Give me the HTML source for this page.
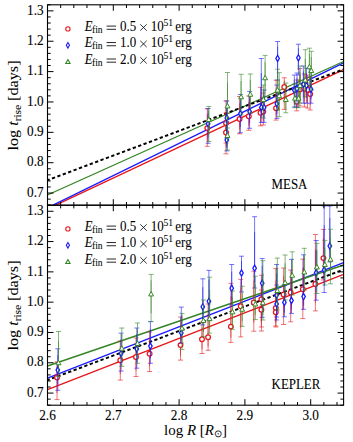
<!DOCTYPE html><html><head><meta charset="utf-8"><style>html,body{margin:0;padding:0;background:#fff;}svg{display:block;}text{font-family:"Liberation Serif",serif;}</style></head><body>
<svg width="353" height="442" viewBox="0 0 353 442">
<rect width="353" height="442" fill="#fff"/>
<clipPath id="c0"><rect x="47.5" y="4.8" width="296.1" height="200.39999999999998"/></clipPath>
<g clip-path="url(#c0)">
<line x1="47.5" y1="209.0" x2="343.6" y2="69.6" stroke="#e8161b" stroke-width="1.35"/>
<line x1="47.5" y1="207.8" x2="343.6" y2="62.8" stroke="#1a1aff" stroke-width="1.35"/>
<line x1="47.5" y1="195.0" x2="343.6" y2="61.5" stroke="#338525" stroke-width="1.35"/>
<line x1="47.5" y1="180.2" x2="343.6" y2="69.3" stroke="#000" stroke-width="1.95" stroke-dasharray="3.3,2.45" stroke-dashoffset="0.95"/>
</g>
<path d="M207.30 108.80V146.30M204.80 108.80h5M204.80 146.30h5" stroke="#e8161b" stroke-opacity="0.6" stroke-width="1" fill="none"/><path d="M207.30 114.59V140.84" stroke="#e8161b" stroke-opacity="0.6" stroke-width="1" fill="none"/>
<path d="M226.00 100.80V143.00M223.50 100.80h5M223.50 143.00h5" stroke="#e8161b" stroke-opacity="0.6" stroke-width="1" fill="none"/><path d="M226.00 107.46V137.00" stroke="#e8161b" stroke-opacity="0.6" stroke-width="1" fill="none"/>
<path d="M226.00 113.00V153.80M223.50 113.00h5M223.50 153.80h5" stroke="#e8161b" stroke-opacity="0.6" stroke-width="1" fill="none"/><path d="M226.00 118.85V147.41" stroke="#e8161b" stroke-opacity="0.6" stroke-width="1" fill="none"/>
<path d="M239.60 96.50V133.80M237.10 96.50h5M237.10 133.80h5" stroke="#e8161b" stroke-opacity="0.6" stroke-width="1" fill="none"/><path d="M239.60 103.25V129.36" stroke="#e8161b" stroke-opacity="0.6" stroke-width="1" fill="none"/>
<path d="M248.80 96.00V130.30M246.30 96.00h5M246.30 130.30h5" stroke="#e8161b" stroke-opacity="0.6" stroke-width="1" fill="none"/><path d="M248.80 102.06V126.07" stroke="#e8161b" stroke-opacity="0.6" stroke-width="1" fill="none"/>
<path d="M260.50 87.30V125.80M258.00 87.30h5M258.00 125.80h5" stroke="#e8161b" stroke-opacity="0.6" stroke-width="1" fill="none"/><path d="M260.50 94.95V121.90" stroke="#e8161b" stroke-opacity="0.6" stroke-width="1" fill="none"/>
<path d="M263.30 93.00V125.00M260.80 93.00h5M260.80 125.00h5" stroke="#e8161b" stroke-opacity="0.6" stroke-width="1" fill="none"/><path d="M263.30 98.58V120.98" stroke="#e8161b" stroke-opacity="0.6" stroke-width="1" fill="none"/>
<path d="M276.10 80.20V120.10M273.60 80.20h5M273.60 120.10h5" stroke="#e8161b" stroke-opacity="0.6" stroke-width="1" fill="none"/><path d="M276.10 88.60V116.53" stroke="#e8161b" stroke-opacity="0.6" stroke-width="1" fill="none"/>
<path d="M284.30 77.80V109.40M281.80 77.80h5M281.80 109.40h5" stroke="#e8161b" stroke-opacity="0.6" stroke-width="1" fill="none"/><path d="M284.30 80.56V102.68" stroke="#e8161b" stroke-opacity="0.6" stroke-width="1" fill="none"/>
<path d="M299.90 68.60V106.00M297.40 68.60h5M297.40 106.00h5" stroke="#e8161b" stroke-opacity="0.6" stroke-width="1" fill="none"/><path d="M299.90 74.90V101.08" stroke="#e8161b" stroke-opacity="0.6" stroke-width="1" fill="none"/>
<path d="M296.70 80.00V110.80M294.20 80.00h5M294.20 110.80h5" stroke="#e8161b" stroke-opacity="0.6" stroke-width="1" fill="none"/><path d="M296.70 86.54V108.10" stroke="#e8161b" stroke-opacity="0.6" stroke-width="1" fill="none"/>
<path d="M304.40 74.00V107.00M301.90 74.00h5M301.90 107.00h5" stroke="#e8161b" stroke-opacity="0.6" stroke-width="1" fill="none"/><path d="M304.40 78.44V101.54" stroke="#e8161b" stroke-opacity="0.6" stroke-width="1" fill="none"/>
<path d="M307.50 75.00V108.00M305.00 75.00h5M305.00 108.00h5" stroke="#e8161b" stroke-opacity="0.6" stroke-width="1" fill="none"/><path d="M307.50 79.44V102.54" stroke="#e8161b" stroke-opacity="0.6" stroke-width="1" fill="none"/>
<path d="M310.20 77.00V110.00M307.70 77.00h5M307.70 110.00h5" stroke="#e8161b" stroke-opacity="0.6" stroke-width="1" fill="none"/><path d="M310.20 82.13V105.23" stroke="#e8161b" stroke-opacity="0.6" stroke-width="1" fill="none"/>
<circle cx="207.30" cy="128.10" r="2.35" fill="#fff" stroke="#e8161b" stroke-width="1.25"/>
<circle cx="226.00" cy="123.00" r="2.35" fill="#fff" stroke="#e8161b" stroke-width="1.25"/>
<circle cx="226.00" cy="132.50" r="2.35" fill="#fff" stroke="#e8161b" stroke-width="1.25"/>
<circle cx="239.60" cy="119.00" r="2.35" fill="#fff" stroke="#e8161b" stroke-width="1.25"/>
<circle cx="248.80" cy="116.20" r="2.35" fill="#fff" stroke="#e8161b" stroke-width="1.25"/>
<circle cx="260.50" cy="112.80" r="2.35" fill="#fff" stroke="#e8161b" stroke-width="1.25"/>
<circle cx="263.30" cy="111.60" r="2.35" fill="#fff" stroke="#e8161b" stroke-width="1.25"/>
<circle cx="276.10" cy="108.20" r="2.35" fill="#fff" stroke="#e8161b" stroke-width="1.25"/>
<circle cx="284.30" cy="87.00" r="2.35" fill="#fff" stroke="#e8161b" stroke-width="1.25"/>
<circle cx="299.90" cy="89.60" r="2.35" fill="#fff" stroke="#e8161b" stroke-width="1.25"/>
<circle cx="296.70" cy="101.80" r="2.35" fill="#fff" stroke="#e8161b" stroke-width="1.25"/>
<circle cx="304.40" cy="88.80" r="2.35" fill="#fff" stroke="#e8161b" stroke-width="1.25"/>
<circle cx="307.50" cy="89.80" r="2.35" fill="#fff" stroke="#e8161b" stroke-width="1.25"/>
<circle cx="310.20" cy="94.10" r="2.35" fill="#fff" stroke="#e8161b" stroke-width="1.25"/>
<path d="M208.10 108.50V143.30M205.60 108.50h5M205.60 143.30h5" stroke="#1a1aff" stroke-opacity="0.6" stroke-width="1" fill="none"/><path d="M208.10 113.06V137.42" stroke="#1a1aff" stroke-opacity="0.6" stroke-width="1" fill="none"/>
<path d="M226.80 101.00V138.00M224.30 101.00h5M224.30 138.00h5" stroke="#1a1aff" stroke-opacity="0.6" stroke-width="1" fill="none"/><path d="M226.80 106.10V132.00" stroke="#1a1aff" stroke-opacity="0.6" stroke-width="1" fill="none"/>
<path d="M226.80 122.00V150.90M224.30 122.00h5M224.30 150.90h5" stroke="#1a1aff" stroke-opacity="0.6" stroke-width="1" fill="none"/><path d="M226.80 127.40V147.63" stroke="#1a1aff" stroke-opacity="0.6" stroke-width="1" fill="none"/>
<path d="M240.40 94.50V132.70M237.90 94.50h5M237.90 132.70h5" stroke="#1a1aff" stroke-opacity="0.6" stroke-width="1" fill="none"/><path d="M240.40 100.23V126.97" stroke="#1a1aff" stroke-opacity="0.6" stroke-width="1" fill="none"/>
<path d="M249.60 91.40V128.30M247.10 91.40h5M247.10 128.30h5" stroke="#1a1aff" stroke-opacity="0.6" stroke-width="1" fill="none"/><path d="M249.60 97.46V123.29" stroke="#1a1aff" stroke-opacity="0.6" stroke-width="1" fill="none"/>
<path d="M261.30 58.50V122.40M258.80 58.50h5M258.80 122.40h5" stroke="#1a1aff" stroke-opacity="0.6" stroke-width="1" fill="none"/><path d="M261.30 73.17V117.90" stroke="#1a1aff" stroke-opacity="0.6" stroke-width="1" fill="none"/>
<path d="M264.10 90.00V122.40M261.60 90.00h5M261.60 122.40h5" stroke="#1a1aff" stroke-opacity="0.6" stroke-width="1" fill="none"/><path d="M264.10 95.22V117.90" stroke="#1a1aff" stroke-opacity="0.6" stroke-width="1" fill="none"/>
<path d="M277.60 41.50V80.00M275.10 41.50h5M275.10 80.00h5" stroke="#1a1aff" stroke-opacity="0.6" stroke-width="1" fill="none"/><path d="M277.60 46.57V73.52" stroke="#1a1aff" stroke-opacity="0.6" stroke-width="1" fill="none"/>
<path d="M276.90 85.00V118.40M274.40 85.00h5M274.40 118.40h5" stroke="#1a1aff" stroke-opacity="0.6" stroke-width="1" fill="none"/><path d="M276.90 90.61V113.99" stroke="#1a1aff" stroke-opacity="0.6" stroke-width="1" fill="none"/>
<path d="M294.30 75.00V107.00M291.80 75.00h5M291.80 107.00h5" stroke="#1a1aff" stroke-opacity="0.6" stroke-width="1" fill="none"/><path d="M294.30 79.53V101.93" stroke="#1a1aff" stroke-opacity="0.6" stroke-width="1" fill="none"/>
<path d="M297.00 73.00V107.30M294.50 73.00h5M294.50 107.30h5" stroke="#1a1aff" stroke-opacity="0.6" stroke-width="1" fill="none"/><path d="M297.00 77.71V101.72" stroke="#1a1aff" stroke-opacity="0.6" stroke-width="1" fill="none"/>
<path d="M298.40 44.20V75.00M295.90 44.20h5M295.90 75.00h5" stroke="#1a1aff" stroke-opacity="0.6" stroke-width="1" fill="none"/><path d="M298.40 48.28V69.84" stroke="#1a1aff" stroke-opacity="0.6" stroke-width="1" fill="none"/>
<path d="M303.40 66.00V103.20M300.90 66.00h5M300.90 103.20h5" stroke="#1a1aff" stroke-opacity="0.6" stroke-width="1" fill="none"/><path d="M303.40 71.46V97.50" stroke="#1a1aff" stroke-opacity="0.6" stroke-width="1" fill="none"/>
<path d="M306.50 68.00V103.20M304.00 68.00h5M304.00 103.20h5" stroke="#1a1aff" stroke-opacity="0.6" stroke-width="1" fill="none"/><path d="M306.50 73.25V97.89" stroke="#1a1aff" stroke-opacity="0.6" stroke-width="1" fill="none"/>
<path d="M311.00 72.00V103.20M308.50 72.00h5M308.50 103.20h5" stroke="#1a1aff" stroke-opacity="0.6" stroke-width="1" fill="none"/><path d="M311.00 77.16V99.00" stroke="#1a1aff" stroke-opacity="0.6" stroke-width="1" fill="none"/>
<path d="M208.10 120.60L209.85 123.70L208.10 126.80L206.35 123.70Z" fill="#fff" stroke="#1a1aff" stroke-width="1.3"/>
<path d="M226.80 114.90L228.55 118.00L226.80 121.10L225.05 118.00Z" fill="#fff" stroke="#1a1aff" stroke-width="1.3"/>
<path d="M226.80 136.90L228.55 140.00L226.80 143.10L225.05 140.00Z" fill="#fff" stroke="#1a1aff" stroke-width="1.3"/>
<path d="M240.40 110.50L242.15 113.60L240.40 116.70L238.65 113.60Z" fill="#fff" stroke="#1a1aff" stroke-width="1.3"/>
<path d="M249.60 108.50L251.35 111.60L249.60 114.70L247.85 111.60Z" fill="#fff" stroke="#1a1aff" stroke-width="1.3"/>
<path d="M261.30 104.30L263.05 107.40L261.30 110.50L259.55 107.40Z" fill="#fff" stroke="#1a1aff" stroke-width="1.3"/>
<path d="M264.10 104.30L265.85 107.40L264.10 110.50L262.35 107.40Z" fill="#fff" stroke="#1a1aff" stroke-width="1.3"/>
<path d="M277.60 55.30L279.35 58.40L277.60 61.50L275.85 58.40Z" fill="#fff" stroke="#1a1aff" stroke-width="1.3"/>
<path d="M276.90 100.60L278.65 103.70L276.90 106.80L275.15 103.70Z" fill="#fff" stroke="#1a1aff" stroke-width="1.3"/>
<path d="M294.30 87.00L296.05 90.10L294.30 93.20L292.55 90.10Z" fill="#fff" stroke="#1a1aff" stroke-width="1.3"/>
<path d="M297.00 85.60L298.75 88.70L297.00 91.80L295.25 88.70Z" fill="#fff" stroke="#1a1aff" stroke-width="1.3"/>
<path d="M298.40 54.70L300.15 57.80L298.40 60.90L296.65 57.80Z" fill="#fff" stroke="#1a1aff" stroke-width="1.3"/>
<path d="M303.40 81.10L305.15 84.20L303.40 87.30L301.65 84.20Z" fill="#fff" stroke="#1a1aff" stroke-width="1.3"/>
<path d="M306.50 82.40L308.25 85.50L306.50 88.60L304.75 85.50Z" fill="#fff" stroke="#1a1aff" stroke-width="1.3"/>
<path d="M311.00 86.10L312.75 89.20L311.00 92.30L309.25 89.20Z" fill="#fff" stroke="#1a1aff" stroke-width="1.3"/>
<path d="M208.80 106.50V141.50M206.30 106.50h5M206.30 141.50h5" stroke="#338525" stroke-opacity="0.6" stroke-width="1" fill="none"/><path d="M208.80 110.40V134.90" stroke="#338525" stroke-opacity="0.6" stroke-width="1" fill="none"/>
<path d="M227.50 72.50V128.00M225.00 72.50h5M225.00 128.00h5" stroke="#338525" stroke-opacity="0.6" stroke-width="1" fill="none"/><path d="M227.50 82.55V121.40" stroke="#338525" stroke-opacity="0.6" stroke-width="1" fill="none"/>
<path d="M227.50 118.00V150.10M225.00 118.00h5M225.00 150.10h5" stroke="#338525" stroke-opacity="0.6" stroke-width="1" fill="none"/><path d="M227.50 123.25V145.72" stroke="#338525" stroke-opacity="0.6" stroke-width="1" fill="none"/>
<path d="M241.10 74.30V115.00M238.60 74.30h5M238.60 115.00h5" stroke="#338525" stroke-opacity="0.6" stroke-width="1" fill="none"/><path d="M241.10 81.05V109.54" stroke="#338525" stroke-opacity="0.6" stroke-width="1" fill="none"/>
<path d="M250.30 74.00V113.00M247.80 74.00h5M247.80 113.00h5" stroke="#338525" stroke-opacity="0.6" stroke-width="1" fill="none"/><path d="M250.30 80.09V107.39" stroke="#338525" stroke-opacity="0.6" stroke-width="1" fill="none"/>
<path d="M265.10 55.40V97.00M262.60 55.40h5M262.60 97.00h5" stroke="#338525" stroke-opacity="0.6" stroke-width="1" fill="none"/><path d="M265.10 62.12V91.24" stroke="#338525" stroke-opacity="0.6" stroke-width="1" fill="none"/>
<path d="M263.40 85.00V118.00M260.90 85.00h5M260.90 118.00h5" stroke="#338525" stroke-opacity="0.6" stroke-width="1" fill="none"/><path d="M263.40 89.35V112.45" stroke="#338525" stroke-opacity="0.6" stroke-width="1" fill="none"/>
<path d="M277.60 69.20V110.00M275.10 69.20h5M275.10 110.00h5" stroke="#338525" stroke-opacity="0.6" stroke-width="1" fill="none"/><path d="M277.60 75.47V104.03" stroke="#338525" stroke-opacity="0.6" stroke-width="1" fill="none"/>
<path d="M279.20 72.70V116.70M276.70 72.70h5M276.70 116.70h5" stroke="#338525" stroke-opacity="0.6" stroke-width="1" fill="none"/><path d="M279.20 79.63V110.43" stroke="#338525" stroke-opacity="0.6" stroke-width="1" fill="none"/>
<path d="M285.80 83.00V112.80M283.30 83.00h5M283.30 112.80h5" stroke="#338525" stroke-opacity="0.6" stroke-width="1" fill="none"/><path d="M285.80 87.95V108.81" stroke="#338525" stroke-opacity="0.6" stroke-width="1" fill="none"/>
<path d="M295.00 84.00V107.70M292.50 84.00h5M292.50 107.70h5" stroke="#338525" stroke-opacity="0.6" stroke-width="1" fill="none"/><path d="M295.00 88.26V104.85" stroke="#338525" stroke-opacity="0.6" stroke-width="1" fill="none"/>
<path d="M298.60 80.00V107.70M296.10 80.00h5M296.10 107.70h5" stroke="#338525" stroke-opacity="0.6" stroke-width="1" fill="none"/><path d="M298.60 85.46V104.85" stroke="#338525" stroke-opacity="0.6" stroke-width="1" fill="none"/>
<path d="M300.00 66.00V103.00M297.50 66.00h5M297.50 103.00h5" stroke="#338525" stroke-opacity="0.6" stroke-width="1" fill="none"/><path d="M300.00 71.85V97.75" stroke="#338525" stroke-opacity="0.6" stroke-width="1" fill="none"/>
<path d="M305.30 49.70V97.00M302.80 49.70h5M302.80 97.00h5" stroke="#338525" stroke-opacity="0.6" stroke-width="1" fill="none"/><path d="M305.30 58.79V91.90" stroke="#338525" stroke-opacity="0.6" stroke-width="1" fill="none"/>
<path d="M309.40 48.20V86.00M306.90 48.20h5M306.90 86.00h5" stroke="#338525" stroke-opacity="0.6" stroke-width="1" fill="none"/><path d="M309.40 53.78V80.24" stroke="#338525" stroke-opacity="0.6" stroke-width="1" fill="none"/>
<path d="M311.30 51.30V90.00M308.80 51.30h5M308.80 90.00h5" stroke="#338525" stroke-opacity="0.6" stroke-width="1" fill="none"/><path d="M311.30 57.09V84.18" stroke="#338525" stroke-opacity="0.6" stroke-width="1" fill="none"/>
<path d="M208.80 117.00L211.25 121.45L206.35 121.45Z" fill="#fff" stroke="#338525" stroke-width="0.98"/>
<path d="M227.50 103.50L229.95 107.95L225.05 107.95Z" fill="#fff" stroke="#338525" stroke-width="0.98"/>
<path d="M227.50 133.00L229.95 137.45L225.05 137.45Z" fill="#fff" stroke="#338525" stroke-width="0.98"/>
<path d="M241.10 94.30L243.55 98.75L238.65 98.75Z" fill="#fff" stroke="#338525" stroke-width="0.98"/>
<path d="M250.30 91.80L252.75 96.25L247.85 96.25Z" fill="#fff" stroke="#338525" stroke-width="0.98"/>
<path d="M265.10 75.30L267.55 79.75L262.65 79.75Z" fill="#fff" stroke="#338525" stroke-width="0.98"/>
<path d="M263.40 97.00L265.85 101.45L260.95 101.45Z" fill="#fff" stroke="#338525" stroke-width="0.98"/>
<path d="M277.60 87.60L280.05 92.05L275.15 92.05Z" fill="#fff" stroke="#338525" stroke-width="0.98"/>
<path d="M279.20 93.30L281.65 97.75L276.75 97.75Z" fill="#fff" stroke="#338525" stroke-width="0.98"/>
<path d="M285.80 97.00L288.25 101.45L283.35 101.45Z" fill="#fff" stroke="#338525" stroke-width="0.98"/>
<path d="M295.00 95.70L297.45 100.15L292.55 100.15Z" fill="#fff" stroke="#338525" stroke-width="0.98"/>
<path d="M298.60 95.70L301.05 100.15L296.15 100.15Z" fill="#fff" stroke="#338525" stroke-width="0.98"/>
<path d="M300.00 83.00L302.45 87.45L297.55 87.45Z" fill="#fff" stroke="#338525" stroke-width="0.98"/>
<path d="M305.30 77.50L307.75 81.95L302.85 81.95Z" fill="#fff" stroke="#338525" stroke-width="0.98"/>
<path d="M309.40 64.30L311.85 68.75L306.95 68.75Z" fill="#fff" stroke="#338525" stroke-width="0.98"/>
<path d="M311.30 68.10L313.75 72.55L308.85 72.55Z" fill="#fff" stroke="#338525" stroke-width="0.98"/>
<clipPath id="c1"><rect x="47.5" y="205.2" width="296.1" height="200.0"/></clipPath>
<g clip-path="url(#c1)">
<line x1="47.5" y1="389.6" x2="343.6" y2="274.4" stroke="#e8161b" stroke-width="1.35"/>
<line x1="47.5" y1="378.2" x2="343.6" y2="262.6" stroke="#1a1aff" stroke-width="1.35"/>
<line x1="47.5" y1="366.0" x2="343.6" y2="265.0" stroke="#338525" stroke-width="1.35"/>
<line x1="47.5" y1="380.1" x2="343.6" y2="269.6" stroke="#000" stroke-width="1.95" stroke-dasharray="3.3,2.45" stroke-dashoffset="0.95"/>
</g>
<path d="M57.00 361.80V399.60M54.50 361.80h5M54.50 399.60h5" stroke="#e8161b" stroke-opacity="0.6" stroke-width="1" fill="none"/><path d="M57.00 366.51V392.97" stroke="#e8161b" stroke-opacity="0.6" stroke-width="1" fill="none"/>
<path d="M120.30 341.00V380.10M117.80 341.00h5M117.80 380.10h5" stroke="#e8161b" stroke-opacity="0.6" stroke-width="1" fill="none"/><path d="M120.30 346.76V374.13" stroke="#e8161b" stroke-opacity="0.6" stroke-width="1" fill="none"/>
<path d="M136.00 338.00V376.50M133.50 338.00h5M133.50 376.50h5" stroke="#e8161b" stroke-opacity="0.6" stroke-width="1" fill="none"/><path d="M136.00 343.70V370.65" stroke="#e8161b" stroke-opacity="0.6" stroke-width="1" fill="none"/>
<path d="M149.60 332.00V371.50M147.10 332.00h5M147.10 371.50h5" stroke="#e8161b" stroke-opacity="0.6" stroke-width="1" fill="none"/><path d="M149.60 338.51V366.16" stroke="#e8161b" stroke-opacity="0.6" stroke-width="1" fill="none"/>
<path d="M180.50 317.10V360.10M178.00 317.10h5M178.00 360.10h5" stroke="#e8161b" stroke-opacity="0.6" stroke-width="1" fill="none"/><path d="M180.50 325.50V355.60" stroke="#e8161b" stroke-opacity="0.6" stroke-width="1" fill="none"/>
<path d="M202.00 322.00V353.50M199.50 322.00h5M199.50 353.50h5" stroke="#e8161b" stroke-opacity="0.6" stroke-width="1" fill="none"/><path d="M202.00 327.16V349.21" stroke="#e8161b" stroke-opacity="0.6" stroke-width="1" fill="none"/>
<path d="M208.10 304.00V350.30M205.60 304.00h5M205.60 350.30h5" stroke="#e8161b" stroke-opacity="0.6" stroke-width="1" fill="none"/><path d="M208.10 313.96V346.37" stroke="#e8161b" stroke-opacity="0.6" stroke-width="1" fill="none"/>
<path d="M230.90 283.30V342.40M228.40 283.30h5M228.40 342.40h5" stroke="#e8161b" stroke-opacity="0.6" stroke-width="1" fill="none"/><path d="M230.90 296.29V337.66" stroke="#e8161b" stroke-opacity="0.6" stroke-width="1" fill="none"/>
<path d="M240.70 279.30V336.90M238.20 279.30h5M238.20 336.90h5" stroke="#e8161b" stroke-opacity="0.6" stroke-width="1" fill="none"/><path d="M240.70 287.37V327.69" stroke="#e8161b" stroke-opacity="0.6" stroke-width="1" fill="none"/>
<path d="M253.80 271.20V331.20M251.30 271.20h5M251.30 331.20h5" stroke="#e8161b" stroke-opacity="0.6" stroke-width="1" fill="none"/><path d="M253.80 280.59V322.59" stroke="#e8161b" stroke-opacity="0.6" stroke-width="1" fill="none"/>
<path d="M261.40 275.20V331.00M258.90 275.20h5M258.90 331.00h5" stroke="#e8161b" stroke-opacity="0.6" stroke-width="1" fill="none"/><path d="M261.40 282.43V321.49" stroke="#e8161b" stroke-opacity="0.6" stroke-width="1" fill="none"/>
<path d="M261.40 290.00V327.00M258.90 290.00h5M258.90 327.00h5" stroke="#e8161b" stroke-opacity="0.6" stroke-width="1" fill="none"/><path d="M261.40 295.94V321.84" stroke="#e8161b" stroke-opacity="0.6" stroke-width="1" fill="none"/>
<path d="M275.80 268.60V326.00M273.30 268.60h5M273.30 326.00h5" stroke="#e8161b" stroke-opacity="0.6" stroke-width="1" fill="none"/><path d="M275.80 280.42V320.60" stroke="#e8161b" stroke-opacity="0.6" stroke-width="1" fill="none"/>
<path d="M275.80 295.00V327.00M273.30 295.00h5M273.30 327.00h5" stroke="#e8161b" stroke-opacity="0.6" stroke-width="1" fill="none"/><path d="M275.80 300.16V322.56" stroke="#e8161b" stroke-opacity="0.6" stroke-width="1" fill="none"/>
<path d="M283.60 268.00V324.50M281.10 268.00h5M281.10 324.50h5" stroke="#e8161b" stroke-opacity="0.6" stroke-width="1" fill="none"/><path d="M283.60 275.92V315.47" stroke="#e8161b" stroke-opacity="0.6" stroke-width="1" fill="none"/>
<path d="M290.70 270.00V321.80M288.20 270.00h5M288.20 321.80h5" stroke="#e8161b" stroke-opacity="0.6" stroke-width="1" fill="none"/><path d="M290.70 276.75V313.01" stroke="#e8161b" stroke-opacity="0.6" stroke-width="1" fill="none"/>
<path d="M302.80 259.10V318.60M300.30 259.10h5M300.30 318.60h5" stroke="#e8161b" stroke-opacity="0.6" stroke-width="1" fill="none"/><path d="M302.80 268.13V309.78" stroke="#e8161b" stroke-opacity="0.6" stroke-width="1" fill="none"/>
<path d="M315.40 234.50V310.90M312.90 234.50h5M312.90 310.90h5" stroke="#e8161b" stroke-opacity="0.6" stroke-width="1" fill="none"/><path d="M315.40 249.35V302.83" stroke="#e8161b" stroke-opacity="0.6" stroke-width="1" fill="none"/>
<path d="M323.40 229.40V280.00M320.90 229.40h5M320.90 280.00h5" stroke="#e8161b" stroke-opacity="0.6" stroke-width="1" fill="none"/><path d="M323.40 238.01V273.43" stroke="#e8161b" stroke-opacity="0.6" stroke-width="1" fill="none"/>
<circle cx="57.00" cy="377.50" r="2.35" fill="#fff" stroke="#e8161b" stroke-width="1.25"/>
<circle cx="120.30" cy="360.20" r="2.35" fill="#fff" stroke="#e8161b" stroke-width="1.25"/>
<circle cx="136.00" cy="357.00" r="2.35" fill="#fff" stroke="#e8161b" stroke-width="1.25"/>
<circle cx="149.60" cy="353.70" r="2.35" fill="#fff" stroke="#e8161b" stroke-width="1.25"/>
<circle cx="180.50" cy="345.10" r="2.35" fill="#fff" stroke="#e8161b" stroke-width="1.25"/>
<circle cx="202.00" cy="339.20" r="2.35" fill="#fff" stroke="#e8161b" stroke-width="1.25"/>
<circle cx="208.10" cy="337.20" r="2.35" fill="#fff" stroke="#e8161b" stroke-width="1.25"/>
<circle cx="230.90" cy="326.60" r="2.35" fill="#fff" stroke="#e8161b" stroke-width="1.25"/>
<circle cx="240.70" cy="306.20" r="2.35" fill="#fff" stroke="#e8161b" stroke-width="1.25"/>
<circle cx="253.80" cy="302.50" r="2.35" fill="#fff" stroke="#e8161b" stroke-width="1.25"/>
<circle cx="261.40" cy="299.30" r="2.35" fill="#fff" stroke="#e8161b" stroke-width="1.25"/>
<circle cx="261.40" cy="309.80" r="2.35" fill="#fff" stroke="#e8161b" stroke-width="1.25"/>
<circle cx="275.80" cy="308.00" r="2.35" fill="#fff" stroke="#e8161b" stroke-width="1.25"/>
<circle cx="275.80" cy="312.20" r="2.35" fill="#fff" stroke="#e8161b" stroke-width="1.25"/>
<circle cx="283.60" cy="294.40" r="2.35" fill="#fff" stroke="#e8161b" stroke-width="1.25"/>
<circle cx="290.70" cy="292.50" r="2.35" fill="#fff" stroke="#e8161b" stroke-width="1.25"/>
<circle cx="302.80" cy="289.20" r="2.35" fill="#fff" stroke="#e8161b" stroke-width="1.25"/>
<circle cx="315.40" cy="284.00" r="2.35" fill="#fff" stroke="#e8161b" stroke-width="1.25"/>
<circle cx="323.40" cy="258.10" r="2.35" fill="#fff" stroke="#e8161b" stroke-width="1.25"/>
<path d="M57.80 348.80V390.30M55.30 348.80h5M55.30 390.30h5" stroke="#1a1aff" stroke-opacity="0.6" stroke-width="1" fill="none"/><path d="M57.80 355.19V384.24" stroke="#1a1aff" stroke-opacity="0.6" stroke-width="1" fill="none"/>
<path d="M121.10 333.10V371.10M118.60 333.10h5M118.60 371.10h5" stroke="#1a1aff" stroke-opacity="0.6" stroke-width="1" fill="none"/><path d="M121.10 339.19V365.79" stroke="#1a1aff" stroke-opacity="0.6" stroke-width="1" fill="none"/>
<path d="M136.80 328.00V368.20M134.30 328.00h5M134.30 368.20h5" stroke="#1a1aff" stroke-opacity="0.6" stroke-width="1" fill="none"/><path d="M136.80 334.27V362.41" stroke="#1a1aff" stroke-opacity="0.6" stroke-width="1" fill="none"/>
<path d="M150.40 321.70V363.30M147.90 321.70h5M147.90 363.30h5" stroke="#1a1aff" stroke-opacity="0.6" stroke-width="1" fill="none"/><path d="M150.40 329.02V358.14" stroke="#1a1aff" stroke-opacity="0.6" stroke-width="1" fill="none"/>
<path d="M181.30 307.10V343.00M178.80 307.10h5M178.80 343.00h5" stroke="#1a1aff" stroke-opacity="0.6" stroke-width="1" fill="none"/><path d="M181.30 314.84V339.97" stroke="#1a1aff" stroke-opacity="0.6" stroke-width="1" fill="none"/>
<path d="M202.80 278.80V325.00M200.30 278.80h5M200.30 325.00h5" stroke="#1a1aff" stroke-opacity="0.6" stroke-width="1" fill="none"/><path d="M202.80 287.20V319.54" stroke="#1a1aff" stroke-opacity="0.6" stroke-width="1" fill="none"/>
<path d="M208.90 270.40V320.00M206.40 270.40h5M206.40 320.00h5" stroke="#1a1aff" stroke-opacity="0.6" stroke-width="1" fill="none"/><path d="M208.90 279.67V314.39" stroke="#1a1aff" stroke-opacity="0.6" stroke-width="1" fill="none"/>
<path d="M231.70 264.50V305.00M229.20 264.50h5M229.20 305.00h5" stroke="#1a1aff" stroke-opacity="0.6" stroke-width="1" fill="none"/><path d="M231.70 271.61V299.96" stroke="#1a1aff" stroke-opacity="0.6" stroke-width="1" fill="none"/>
<path d="M241.50 256.20V292.00M239.00 256.20h5M239.00 292.00h5" stroke="#1a1aff" stroke-opacity="0.6" stroke-width="1" fill="none"/><path d="M241.50 261.24V286.30" stroke="#1a1aff" stroke-opacity="0.6" stroke-width="1" fill="none"/>
<path d="M254.60 216.70V288.00M252.10 216.70h5M252.10 288.00h5" stroke="#1a1aff" stroke-opacity="0.6" stroke-width="1" fill="none"/><path d="M254.60 232.15V282.06" stroke="#1a1aff" stroke-opacity="0.6" stroke-width="1" fill="none"/>
<path d="M262.20 258.50V317.40M259.70 258.50h5M259.70 317.40h5" stroke="#1a1aff" stroke-opacity="0.6" stroke-width="1" fill="none"/><path d="M262.20 265.91V307.14" stroke="#1a1aff" stroke-opacity="0.6" stroke-width="1" fill="none"/>
<path d="M276.60 264.50V317.00M274.10 264.50h5M274.10 317.00h5" stroke="#1a1aff" stroke-opacity="0.6" stroke-width="1" fill="none"/><path d="M276.60 273.71V310.46" stroke="#1a1aff" stroke-opacity="0.6" stroke-width="1" fill="none"/>
<path d="M276.60 285.00V320.00M274.10 285.00h5M274.10 320.00h5" stroke="#1a1aff" stroke-opacity="0.6" stroke-width="1" fill="none"/><path d="M276.60 290.70V315.20" stroke="#1a1aff" stroke-opacity="0.6" stroke-width="1" fill="none"/>
<path d="M284.40 285.00V316.80M281.90 285.00h5M281.90 316.80h5" stroke="#1a1aff" stroke-opacity="0.6" stroke-width="1" fill="none"/><path d="M284.40 290.22V312.48" stroke="#1a1aff" stroke-opacity="0.6" stroke-width="1" fill="none"/>
<path d="M291.50 259.40V313.40M289.00 259.40h5M289.00 313.40h5" stroke="#1a1aff" stroke-opacity="0.6" stroke-width="1" fill="none"/><path d="M291.50 271.73V309.53" stroke="#1a1aff" stroke-opacity="0.6" stroke-width="1" fill="none"/>
<path d="M303.60 254.80V309.30M301.10 254.80h5M301.10 309.30h5" stroke="#1a1aff" stroke-opacity="0.6" stroke-width="1" fill="none"/><path d="M303.60 267.34V305.49" stroke="#1a1aff" stroke-opacity="0.6" stroke-width="1" fill="none"/>
<path d="M316.20 240.50V300.20M313.70 240.50h5M313.70 300.20h5" stroke="#1a1aff" stroke-opacity="0.6" stroke-width="1" fill="none"/><path d="M316.20 250.16V291.95" stroke="#1a1aff" stroke-opacity="0.6" stroke-width="1" fill="none"/>
<path d="M324.20 206.00V292.50M321.70 206.00h5M321.70 292.50h5" stroke="#1a1aff" stroke-opacity="0.6" stroke-width="1" fill="none"/><path d="M324.20 225.20V285.75" stroke="#1a1aff" stroke-opacity="0.6" stroke-width="1" fill="none"/>
<path d="M329.80 206.00V262.00M327.30 206.00h5M327.30 262.00h5" stroke="#1a1aff" stroke-opacity="0.6" stroke-width="1" fill="none"/><path d="M329.80 218.00V257.20" stroke="#1a1aff" stroke-opacity="0.6" stroke-width="1" fill="none"/>
<path d="M57.80 367.00L59.55 370.10L57.80 373.20L56.05 370.10Z" fill="#fff" stroke="#1a1aff" stroke-width="1.3"/>
<path d="M121.10 350.30L122.85 353.40L121.10 356.50L119.35 353.40Z" fill="#fff" stroke="#1a1aff" stroke-width="1.3"/>
<path d="M136.80 345.80L138.55 348.90L136.80 352.00L135.05 348.90Z" fill="#fff" stroke="#1a1aff" stroke-width="1.3"/>
<path d="M150.40 343.00L152.15 346.10L150.40 349.20L148.65 346.10Z" fill="#fff" stroke="#1a1aff" stroke-width="1.3"/>
<path d="M181.30 329.80L183.05 332.90L181.30 336.00L179.55 332.90Z" fill="#fff" stroke="#1a1aff" stroke-width="1.3"/>
<path d="M202.80 303.70L204.55 306.80L202.80 309.90L201.05 306.80Z" fill="#fff" stroke="#1a1aff" stroke-width="1.3"/>
<path d="M208.90 298.20L210.65 301.30L208.90 304.40L207.15 301.30Z" fill="#fff" stroke="#1a1aff" stroke-width="1.3"/>
<path d="M231.70 285.10L233.45 288.20L231.70 291.30L229.95 288.20Z" fill="#fff" stroke="#1a1aff" stroke-width="1.3"/>
<path d="M241.50 269.90L243.25 273.00L241.50 276.10L239.75 273.00Z" fill="#fff" stroke="#1a1aff" stroke-width="1.3"/>
<path d="M254.60 265.10L256.35 268.20L254.60 271.30L252.85 268.20Z" fill="#fff" stroke="#1a1aff" stroke-width="1.3"/>
<path d="M262.20 280.10L263.95 283.20L262.20 286.30L260.45 283.20Z" fill="#fff" stroke="#1a1aff" stroke-width="1.3"/>
<path d="M276.60 292.10L278.35 295.20L276.60 298.30L274.85 295.20Z" fill="#fff" stroke="#1a1aff" stroke-width="1.3"/>
<path d="M276.60 300.90L278.35 304.00L276.60 307.10L274.85 304.00Z" fill="#fff" stroke="#1a1aff" stroke-width="1.3"/>
<path d="M284.40 299.30L286.15 302.40L284.40 305.50L282.65 302.40Z" fill="#fff" stroke="#1a1aff" stroke-width="1.3"/>
<path d="M291.50 297.40L293.25 300.50L291.50 303.60L289.75 300.50Z" fill="#fff" stroke="#1a1aff" stroke-width="1.3"/>
<path d="M303.60 293.50L305.35 296.60L303.60 299.70L301.85 296.60Z" fill="#fff" stroke="#1a1aff" stroke-width="1.3"/>
<path d="M316.20 269.60L317.95 272.70L316.20 275.80L314.45 272.70Z" fill="#fff" stroke="#1a1aff" stroke-width="1.3"/>
<path d="M324.20 266.90L325.95 270.00L324.20 273.10L322.45 270.00Z" fill="#fff" stroke="#1a1aff" stroke-width="1.3"/>
<path d="M329.80 242.90L331.55 246.00L329.80 249.10L328.05 246.00Z" fill="#fff" stroke="#1a1aff" stroke-width="1.3"/>
<path d="M58.50 331.50V376.50M56.00 331.50h5M56.00 376.50h5" stroke="#338525" stroke-opacity="0.6" stroke-width="1" fill="none"/><path d="M58.50 340.89V372.39" stroke="#338525" stroke-opacity="0.6" stroke-width="1" fill="none"/>
<path d="M121.80 328.00V366.40M119.30 328.00h5M119.30 366.40h5" stroke="#338525" stroke-opacity="0.6" stroke-width="1" fill="none"/><path d="M121.80 334.09V360.97" stroke="#338525" stroke-opacity="0.6" stroke-width="1" fill="none"/>
<path d="M137.50 323.00V363.30M135.00 323.00h5M135.00 363.30h5" stroke="#338525" stroke-opacity="0.6" stroke-width="1" fill="none"/><path d="M137.50 329.12V357.33" stroke="#338525" stroke-opacity="0.6" stroke-width="1" fill="none"/>
<path d="M151.10 274.40V321.50M148.60 274.40h5M148.60 321.50h5" stroke="#338525" stroke-opacity="0.6" stroke-width="1" fill="none"/><path d="M151.10 280.28V313.25" stroke="#338525" stroke-opacity="0.6" stroke-width="1" fill="none"/>
<path d="M182.00 313.40V349.40M179.50 313.40h5M179.50 349.40h5" stroke="#338525" stroke-opacity="0.6" stroke-width="1" fill="none"/><path d="M182.00 317.84V343.04" stroke="#338525" stroke-opacity="0.6" stroke-width="1" fill="none"/>
<path d="M203.50 300.00V336.70M201.00 300.00h5M201.00 336.70h5" stroke="#338525" stroke-opacity="0.6" stroke-width="1" fill="none"/><path d="M203.50 306.18V331.87" stroke="#338525" stroke-opacity="0.6" stroke-width="1" fill="none"/>
<path d="M209.60 277.20V333.20M207.10 277.20h5M207.10 333.20h5" stroke="#338525" stroke-opacity="0.6" stroke-width="1" fill="none"/><path d="M209.60 289.65V328.85" stroke="#338525" stroke-opacity="0.6" stroke-width="1" fill="none"/>
<path d="M232.40 291.00V329.30M229.90 291.00h5M229.90 329.30h5" stroke="#338525" stroke-opacity="0.6" stroke-width="1" fill="none"/><path d="M232.40 297.27V324.08" stroke="#338525" stroke-opacity="0.6" stroke-width="1" fill="none"/>
<path d="M242.20 286.20V326.30M239.70 286.20h5M239.70 326.30h5" stroke="#338525" stroke-opacity="0.6" stroke-width="1" fill="none"/><path d="M242.20 293.13V321.20" stroke="#338525" stroke-opacity="0.6" stroke-width="1" fill="none"/>
<path d="M255.30 276.20V319.60M252.80 276.20h5M252.80 319.60h5" stroke="#338525" stroke-opacity="0.6" stroke-width="1" fill="none"/><path d="M255.30 284.54V314.92" stroke="#338525" stroke-opacity="0.6" stroke-width="1" fill="none"/>
<path d="M262.90 260.70V320.00M260.40 260.70h5M260.40 320.00h5" stroke="#338525" stroke-opacity="0.6" stroke-width="1" fill="none"/><path d="M262.90 273.33V314.84" stroke="#338525" stroke-opacity="0.6" stroke-width="1" fill="none"/>
<path d="M277.30 258.10V310.00M274.80 258.10h5M274.80 310.00h5" stroke="#338525" stroke-opacity="0.6" stroke-width="1" fill="none"/><path d="M277.30 267.85V304.18" stroke="#338525" stroke-opacity="0.6" stroke-width="1" fill="none"/>
<path d="M285.10 255.00V300.00M282.60 255.00h5M282.60 300.00h5" stroke="#338525" stroke-opacity="0.6" stroke-width="1" fill="none"/><path d="M285.10 263.28V294.78" stroke="#338525" stroke-opacity="0.6" stroke-width="1" fill="none"/>
<path d="M292.20 251.80V295.00M289.70 251.80h5M289.70 295.00h5" stroke="#338525" stroke-opacity="0.6" stroke-width="1" fill="none"/><path d="M292.20 258.85V289.09" stroke="#338525" stroke-opacity="0.6" stroke-width="1" fill="none"/>
<path d="M304.30 248.30V290.00M301.80 248.30h5M301.80 290.00h5" stroke="#338525" stroke-opacity="0.6" stroke-width="1" fill="none"/><path d="M304.30 255.41V284.60" stroke="#338525" stroke-opacity="0.6" stroke-width="1" fill="none"/>
<path d="M316.90 243.30V293.50M314.40 243.30h5M314.40 293.50h5" stroke="#338525" stroke-opacity="0.6" stroke-width="1" fill="none"/><path d="M316.90 250.41V285.55" stroke="#338525" stroke-opacity="0.6" stroke-width="1" fill="none"/>
<path d="M324.90 240.40V285.00M322.40 240.40h5M322.40 285.00h5" stroke="#338525" stroke-opacity="0.6" stroke-width="1" fill="none"/><path d="M324.90 247.63V278.85" stroke="#338525" stroke-opacity="0.6" stroke-width="1" fill="none"/>
<path d="M330.50 229.20V283.80M328.00 229.20h5M328.00 283.80h5" stroke="#338525" stroke-opacity="0.6" stroke-width="1" fill="none"/><path d="M330.50 238.23V276.45" stroke="#338525" stroke-opacity="0.6" stroke-width="1" fill="none"/>
<path d="M58.50 360.30L60.95 364.75L56.05 364.75Z" fill="#fff" stroke="#338525" stroke-width="0.98"/>
<path d="M121.80 345.80L124.25 350.25L119.35 350.25Z" fill="#fff" stroke="#338525" stroke-width="0.98"/>
<path d="M137.50 340.90L139.95 345.35L135.05 345.35Z" fill="#fff" stroke="#338525" stroke-width="0.98"/>
<path d="M151.10 291.50L153.55 295.95L148.65 295.95Z" fill="#fff" stroke="#338525" stroke-width="0.98"/>
<path d="M182.00 325.70L184.45 330.15L179.55 330.15Z" fill="#fff" stroke="#338525" stroke-width="0.98"/>
<path d="M203.50 318.10L205.95 322.55L201.05 322.55Z" fill="#fff" stroke="#338525" stroke-width="0.98"/>
<path d="M209.60 316.20L212.05 320.65L207.15 320.65Z" fill="#fff" stroke="#338525" stroke-width="0.98"/>
<path d="M232.40 309.40L234.85 313.85L229.95 313.85Z" fill="#fff" stroke="#338525" stroke-width="0.98"/>
<path d="M242.20 306.80L244.65 311.25L239.75 311.25Z" fill="#fff" stroke="#338525" stroke-width="0.98"/>
<path d="M255.30 301.50L257.75 305.95L252.85 305.95Z" fill="#fff" stroke="#338525" stroke-width="0.98"/>
<path d="M262.90 300.30L265.35 304.75L260.45 304.75Z" fill="#fff" stroke="#338525" stroke-width="0.98"/>
<path d="M277.30 288.10L279.75 292.55L274.85 292.55Z" fill="#fff" stroke="#338525" stroke-width="0.98"/>
<path d="M285.10 280.10L287.55 284.55L282.65 284.55Z" fill="#fff" stroke="#338525" stroke-width="0.98"/>
<path d="M292.20 272.80L294.65 277.25L289.75 277.25Z" fill="#fff" stroke="#338525" stroke-width="0.98"/>
<path d="M304.30 269.50L306.75 273.95L301.85 273.95Z" fill="#fff" stroke="#338525" stroke-width="0.98"/>
<path d="M316.90 264.50L319.35 268.95L314.45 268.95Z" fill="#fff" stroke="#338525" stroke-width="0.98"/>
<path d="M324.90 262.00L327.35 266.45L322.45 266.45Z" fill="#fff" stroke="#338525" stroke-width="0.98"/>
<path d="M330.50 256.80L332.95 261.25L328.05 261.25Z" fill="#fff" stroke="#338525" stroke-width="0.98"/>
<rect x="47.5" y="4.8" width="296.1" height="200.39999999999998" fill="none" stroke="#000" stroke-width="1.1"/>
<path d="M47.50 205.2v-6M47.50 4.8v6M60.66 205.2v-3.2M60.66 4.8v3.2M73.82 205.2v-3.2M73.82 4.8v3.2M86.98 205.2v-3.2M86.98 4.8v3.2M100.14 205.2v-3.2M100.14 4.8v3.2M113.30 205.2v-6M113.30 4.8v6M126.46 205.2v-3.2M126.46 4.8v3.2M139.62 205.2v-3.2M139.62 4.8v3.2M152.78 205.2v-3.2M152.78 4.8v3.2M165.94 205.2v-3.2M165.94 4.8v3.2M179.10 205.2v-6M179.10 4.8v6M192.26 205.2v-3.2M192.26 4.8v3.2M205.42 205.2v-3.2M205.42 4.8v3.2M218.58 205.2v-3.2M218.58 4.8v3.2M231.74 205.2v-3.2M231.74 4.8v3.2M244.90 205.2v-6M244.90 4.8v6M258.06 205.2v-3.2M258.06 4.8v3.2M271.22 205.2v-3.2M271.22 4.8v3.2M284.38 205.2v-3.2M284.38 4.8v3.2M297.54 205.2v-3.2M297.54 4.8v3.2M310.70 205.2v-6M310.70 4.8v6M323.86 205.2v-3.2M323.86 4.8v3.2M337.02 205.2v-3.2M337.02 4.8v3.2M47.5 205.20h3.2M343.6 205.20h-3.2M47.5 199.13h3.2M343.6 199.13h-3.2M47.5 193.05h6M343.6 193.05h-6M47.5 186.98h3.2M343.6 186.98h-3.2M47.5 180.91h3.2M343.6 180.91h-3.2M47.5 174.84h3.2M343.6 174.84h-3.2M47.5 168.76h3.2M343.6 168.76h-3.2M47.5 162.69h6M343.6 162.69h-6M47.5 156.62h3.2M343.6 156.62h-3.2M47.5 150.55h3.2M343.6 150.55h-3.2M47.5 144.47h3.2M343.6 144.47h-3.2M47.5 138.40h3.2M343.6 138.40h-3.2M47.5 132.33h6M343.6 132.33h-6M47.5 126.25h3.2M343.6 126.25h-3.2M47.5 120.18h3.2M343.6 120.18h-3.2M47.5 114.11h3.2M343.6 114.11h-3.2M47.5 108.04h3.2M343.6 108.04h-3.2M47.5 101.96h6M343.6 101.96h-6M47.5 95.89h3.2M343.6 95.89h-3.2M47.5 89.82h3.2M343.6 89.82h-3.2M47.5 83.75h3.2M343.6 83.75h-3.2M47.5 77.67h3.2M343.6 77.67h-3.2M47.5 71.60h6M343.6 71.60h-6M47.5 65.53h3.2M343.6 65.53h-3.2M47.5 59.45h3.2M343.6 59.45h-3.2M47.5 53.38h3.2M343.6 53.38h-3.2M47.5 47.31h3.2M343.6 47.31h-3.2M47.5 41.24h6M343.6 41.24h-6M47.5 35.16h3.2M343.6 35.16h-3.2M47.5 29.09h3.2M343.6 29.09h-3.2M47.5 23.02h3.2M343.6 23.02h-3.2M47.5 16.95h3.2M343.6 16.95h-3.2M47.5 10.87h6M343.6 10.87h-6M47.5 4.80h3.2M343.6 4.80h-3.2" stroke="#000" stroke-width="1" fill="none"/>
<rect x="47.5" y="205.2" width="296.1" height="200.0" fill="none" stroke="#000" stroke-width="1.1"/>
<path d="M47.50 405.2v-6M47.50 205.2v6M60.66 405.2v-3.2M60.66 205.2v3.2M73.82 405.2v-3.2M73.82 205.2v3.2M86.98 405.2v-3.2M86.98 205.2v3.2M100.14 405.2v-3.2M100.14 205.2v3.2M113.30 405.2v-6M113.30 205.2v6M126.46 405.2v-3.2M126.46 205.2v3.2M139.62 405.2v-3.2M139.62 205.2v3.2M152.78 405.2v-3.2M152.78 205.2v3.2M165.94 405.2v-3.2M165.94 205.2v3.2M179.10 405.2v-6M179.10 205.2v6M192.26 405.2v-3.2M192.26 205.2v3.2M205.42 405.2v-3.2M205.42 205.2v3.2M218.58 405.2v-3.2M218.58 205.2v3.2M231.74 405.2v-3.2M231.74 205.2v3.2M244.90 405.2v-6M244.90 205.2v6M258.06 405.2v-3.2M258.06 205.2v3.2M271.22 405.2v-3.2M271.22 205.2v3.2M284.38 405.2v-3.2M284.38 205.2v3.2M297.54 405.2v-3.2M297.54 205.2v3.2M310.70 405.2v-6M310.70 205.2v6M323.86 405.2v-3.2M323.86 205.2v3.2M337.02 405.2v-3.2M337.02 205.2v3.2M47.5 405.20h3.2M343.6 405.20h-3.2M47.5 399.14h3.2M343.6 399.14h-3.2M47.5 393.08h6M343.6 393.08h-6M47.5 387.02h3.2M343.6 387.02h-3.2M47.5 380.96h3.2M343.6 380.96h-3.2M47.5 374.90h3.2M343.6 374.90h-3.2M47.5 368.84h3.2M343.6 368.84h-3.2M47.5 362.78h6M343.6 362.78h-6M47.5 356.72h3.2M343.6 356.72h-3.2M47.5 350.65h3.2M343.6 350.65h-3.2M47.5 344.59h3.2M343.6 344.59h-3.2M47.5 338.53h3.2M343.6 338.53h-3.2M47.5 332.47h6M343.6 332.47h-6M47.5 326.41h3.2M343.6 326.41h-3.2M47.5 320.35h3.2M343.6 320.35h-3.2M47.5 314.29h3.2M343.6 314.29h-3.2M47.5 308.23h3.2M343.6 308.23h-3.2M47.5 302.17h6M343.6 302.17h-6M47.5 296.11h3.2M343.6 296.11h-3.2M47.5 290.05h3.2M343.6 290.05h-3.2M47.5 283.99h3.2M343.6 283.99h-3.2M47.5 277.93h3.2M343.6 277.93h-3.2M47.5 271.87h6M343.6 271.87h-6M47.5 265.81h3.2M343.6 265.81h-3.2M47.5 259.75h3.2M343.6 259.75h-3.2M47.5 253.68h3.2M343.6 253.68h-3.2M47.5 247.62h3.2M343.6 247.62h-3.2M47.5 241.56h6M343.6 241.56h-6M47.5 235.50h3.2M343.6 235.50h-3.2M47.5 229.44h3.2M343.6 229.44h-3.2M47.5 223.38h3.2M343.6 223.38h-3.2M47.5 217.32h3.2M343.6 217.32h-3.2M47.5 211.26h6M343.6 211.26h-6M47.5 205.20h3.2M343.6 205.20h-3.2" stroke="#000" stroke-width="1" fill="none"/>
<text transform="translate(43.6 196.75) scale(1.02 1.17)" font-size="13" text-anchor="end" stroke="#000" stroke-width="0.1">0.7</text>
<text transform="translate(43.6 166.39) scale(1.02 1.17)" font-size="13" text-anchor="end" stroke="#000" stroke-width="0.1">0.8</text>
<text transform="translate(43.6 136.03) scale(1.02 1.17)" font-size="13" text-anchor="end" stroke="#000" stroke-width="0.1">0.9</text>
<text transform="translate(43.6 105.66) scale(1.02 1.17)" font-size="13" text-anchor="end" stroke="#000" stroke-width="0.1">1.0</text>
<text transform="translate(43.6 75.30) scale(1.02 1.17)" font-size="13" text-anchor="end" stroke="#000" stroke-width="0.1">1.1</text>
<text transform="translate(43.6 44.94) scale(1.02 1.17)" font-size="13" text-anchor="end" stroke="#000" stroke-width="0.1">1.2</text>
<text transform="translate(43.6 14.57) scale(1.02 1.17)" font-size="13" text-anchor="end" stroke="#000" stroke-width="0.1">1.3</text>
<text transform="translate(43.6 396.78) scale(1.02 1.17)" font-size="13" text-anchor="end" stroke="#000" stroke-width="0.1">0.7</text>
<text transform="translate(43.6 366.48) scale(1.02 1.17)" font-size="13" text-anchor="end" stroke="#000" stroke-width="0.1">0.8</text>
<text transform="translate(43.6 336.17) scale(1.02 1.17)" font-size="13" text-anchor="end" stroke="#000" stroke-width="0.1">0.9</text>
<text transform="translate(43.6 305.87) scale(1.02 1.17)" font-size="13" text-anchor="end" stroke="#000" stroke-width="0.1">1.0</text>
<text transform="translate(43.6 275.57) scale(1.02 1.17)" font-size="13" text-anchor="end" stroke="#000" stroke-width="0.1">1.1</text>
<text transform="translate(43.6 245.26) scale(1.02 1.17)" font-size="13" text-anchor="end" stroke="#000" stroke-width="0.1">1.2</text>
<text transform="translate(43.6 214.96) scale(1.02 1.17)" font-size="13" text-anchor="end" stroke="#000" stroke-width="0.1">1.3</text>
<text transform="translate(47.50 419.9) scale(1.02 1.15)" font-size="13" text-anchor="middle" stroke="#000" stroke-width="0.1">2.6</text>
<text transform="translate(113.30 419.9) scale(1.02 1.15)" font-size="13" text-anchor="middle" stroke="#000" stroke-width="0.1">2.7</text>
<text transform="translate(179.10 419.9) scale(1.02 1.15)" font-size="13" text-anchor="middle" stroke="#000" stroke-width="0.1">2.8</text>
<text transform="translate(244.90 419.9) scale(1.02 1.15)" font-size="13" text-anchor="middle" stroke="#000" stroke-width="0.1">2.9</text>
<text transform="translate(310.70 419.9) scale(1.02 1.15)" font-size="13" text-anchor="middle" stroke="#000" stroke-width="0.1">3.0</text>
<text x="195.5" y="435" font-size="15" text-anchor="middle">log <tspan font-style="italic">R</tspan> [<tspan font-style="italic">R</tspan><tspan font-size="10" dy="2">⊙</tspan><tspan dy="-2">]</tspan></text>
<text transform="translate(18.2 105.5) rotate(-90) scale(1.08 1)" font-size="15" text-anchor="middle" stroke="#000" stroke-width="0.06">log <tspan font-style="italic">t</tspan><tspan font-size="10.5" dy="2.5">rise</tspan><tspan dy="-2.5"> [days]</tspan></text>
<text transform="translate(18.2 305.5) rotate(-90) scale(1.08 1)" font-size="15" text-anchor="middle" stroke="#000" stroke-width="0.06">log <tspan font-style="italic">t</tspan><tspan font-size="10.5" dy="2.5">rise</tspan><tspan dy="-2.5"> [days]</tspan></text>
<text transform="translate(271.6 189.2) scale(0.955 1.12)" font-size="13.5" stroke="#000" stroke-width="0.08">MESA</text>
<text transform="translate(271.6 389.2) scale(0.955 1.12)" font-size="13.5" stroke="#000" stroke-width="0.08">KEPLER</text>
<circle cx="67.90" cy="28.90" r="2.12" fill="#fff" stroke="#e8161b" stroke-width="1.1"/>
<text transform="translate(84.7 30.90) scale(1 1.1)" font-size="12.6" font-style="italic" stroke="#000" stroke-width="0.06">E</text>
<text transform="translate(92.0 32.60) scale(1 1.05)" font-size="9.6" stroke="#000" stroke-width="0.06">fin</text>
<path d="M106.6 26.10h9.4M106.6 29.30h9.4" stroke="#000" stroke-width="0.85"/>
<text transform="translate(120.0 30.90) scale(1 1.12)" font-size="13" stroke="#000" stroke-width="0.06">0.5</text>
<path d="M140.3 24.30L146.7 30.60M146.7 24.30L140.3 30.60" stroke="#000" stroke-width="0.8"/>
<text transform="translate(150.7 30.90) scale(1 1.12)" font-size="13" stroke="#000" stroke-width="0.06">10</text>
<text transform="translate(163.5 25.90) scale(1 1.1)" font-size="9.6" stroke="#000" stroke-width="0.06">51</text>
<text transform="translate(175.3 30.90) scale(1 1.1)" font-size="13" stroke="#000" stroke-width="0.06">erg</text>
<path d="M67.90 42.56L69.48 45.35L67.90 48.14L66.33 45.35Z" fill="#fff" stroke="#1a1aff" stroke-width="1.1"/>
<text transform="translate(84.7 47.35) scale(1 1.1)" font-size="12.6" font-style="italic" stroke="#000" stroke-width="0.06">E</text>
<text transform="translate(92.0 49.05) scale(1 1.05)" font-size="9.6" stroke="#000" stroke-width="0.06">fin</text>
<path d="M106.6 42.55h9.4M106.6 45.75h9.4" stroke="#000" stroke-width="0.85"/>
<text transform="translate(120.0 47.35) scale(1 1.12)" font-size="13" stroke="#000" stroke-width="0.06">1.0</text>
<path d="M140.3 40.75L146.7 47.05M146.7 40.75L140.3 47.05" stroke="#000" stroke-width="0.8"/>
<text transform="translate(150.7 47.35) scale(1 1.12)" font-size="13" stroke="#000" stroke-width="0.06">10</text>
<text transform="translate(163.5 42.35) scale(1 1.1)" font-size="9.6" stroke="#000" stroke-width="0.06">51</text>
<text transform="translate(175.3 47.35) scale(1 1.1)" font-size="13" stroke="#000" stroke-width="0.06">erg</text>
<path d="M67.90 59.55L70.11 63.55L65.70 63.55Z" fill="#fff" stroke="#338525" stroke-width="1.1"/>
<text transform="translate(84.7 63.80) scale(1 1.1)" font-size="12.6" font-style="italic" stroke="#000" stroke-width="0.06">E</text>
<text transform="translate(92.0 65.50) scale(1 1.05)" font-size="9.6" stroke="#000" stroke-width="0.06">fin</text>
<path d="M106.6 59.00h9.4M106.6 62.20h9.4" stroke="#000" stroke-width="0.85"/>
<text transform="translate(120.0 63.80) scale(1 1.12)" font-size="13" stroke="#000" stroke-width="0.06">2.0</text>
<path d="M140.3 57.20L146.7 63.50M146.7 57.20L140.3 63.50" stroke="#000" stroke-width="0.8"/>
<text transform="translate(150.7 63.80) scale(1 1.12)" font-size="13" stroke="#000" stroke-width="0.06">10</text>
<text transform="translate(163.5 58.80) scale(1 1.1)" font-size="9.6" stroke="#000" stroke-width="0.06">51</text>
<text transform="translate(175.3 63.80) scale(1 1.1)" font-size="13" stroke="#000" stroke-width="0.06">erg</text>
<circle cx="67.90" cy="228.90" r="2.12" fill="#fff" stroke="#e8161b" stroke-width="1.1"/>
<text transform="translate(84.7 230.90) scale(1 1.1)" font-size="12.6" font-style="italic" stroke="#000" stroke-width="0.06">E</text>
<text transform="translate(92.0 232.60) scale(1 1.05)" font-size="9.6" stroke="#000" stroke-width="0.06">fin</text>
<path d="M106.6 226.10h9.4M106.6 229.30h9.4" stroke="#000" stroke-width="0.85"/>
<text transform="translate(120.0 230.90) scale(1 1.12)" font-size="13" stroke="#000" stroke-width="0.06">0.5</text>
<path d="M140.3 224.30L146.7 230.60M146.7 224.30L140.3 230.60" stroke="#000" stroke-width="0.8"/>
<text transform="translate(150.7 230.90) scale(1 1.12)" font-size="13" stroke="#000" stroke-width="0.06">10</text>
<text transform="translate(163.5 225.90) scale(1 1.1)" font-size="9.6" stroke="#000" stroke-width="0.06">51</text>
<text transform="translate(175.3 230.90) scale(1 1.1)" font-size="13" stroke="#000" stroke-width="0.06">erg</text>
<path d="M67.90 242.56L69.48 245.35L67.90 248.14L66.33 245.35Z" fill="#fff" stroke="#1a1aff" stroke-width="1.1"/>
<text transform="translate(84.7 247.35) scale(1 1.1)" font-size="12.6" font-style="italic" stroke="#000" stroke-width="0.06">E</text>
<text transform="translate(92.0 249.05) scale(1 1.05)" font-size="9.6" stroke="#000" stroke-width="0.06">fin</text>
<path d="M106.6 242.55h9.4M106.6 245.75h9.4" stroke="#000" stroke-width="0.85"/>
<text transform="translate(120.0 247.35) scale(1 1.12)" font-size="13" stroke="#000" stroke-width="0.06">1.0</text>
<path d="M140.3 240.75L146.7 247.05M146.7 240.75L140.3 247.05" stroke="#000" stroke-width="0.8"/>
<text transform="translate(150.7 247.35) scale(1 1.12)" font-size="13" stroke="#000" stroke-width="0.06">10</text>
<text transform="translate(163.5 242.35) scale(1 1.1)" font-size="9.6" stroke="#000" stroke-width="0.06">51</text>
<text transform="translate(175.3 247.35) scale(1 1.1)" font-size="13" stroke="#000" stroke-width="0.06">erg</text>
<path d="M67.90 259.55L70.11 263.56L65.70 263.56Z" fill="#fff" stroke="#338525" stroke-width="1.1"/>
<text transform="translate(84.7 263.80) scale(1 1.1)" font-size="12.6" font-style="italic" stroke="#000" stroke-width="0.06">E</text>
<text transform="translate(92.0 265.50) scale(1 1.05)" font-size="9.6" stroke="#000" stroke-width="0.06">fin</text>
<path d="M106.6 259.00h9.4M106.6 262.20h9.4" stroke="#000" stroke-width="0.85"/>
<text transform="translate(120.0 263.80) scale(1 1.12)" font-size="13" stroke="#000" stroke-width="0.06">2.0</text>
<path d="M140.3 257.20L146.7 263.50M146.7 257.20L140.3 263.50" stroke="#000" stroke-width="0.8"/>
<text transform="translate(150.7 263.80) scale(1 1.12)" font-size="13" stroke="#000" stroke-width="0.06">10</text>
<text transform="translate(163.5 258.80) scale(1 1.1)" font-size="9.6" stroke="#000" stroke-width="0.06">51</text>
<text transform="translate(175.3 263.80) scale(1 1.1)" font-size="13" stroke="#000" stroke-width="0.06">erg</text>
</svg></body></html>
